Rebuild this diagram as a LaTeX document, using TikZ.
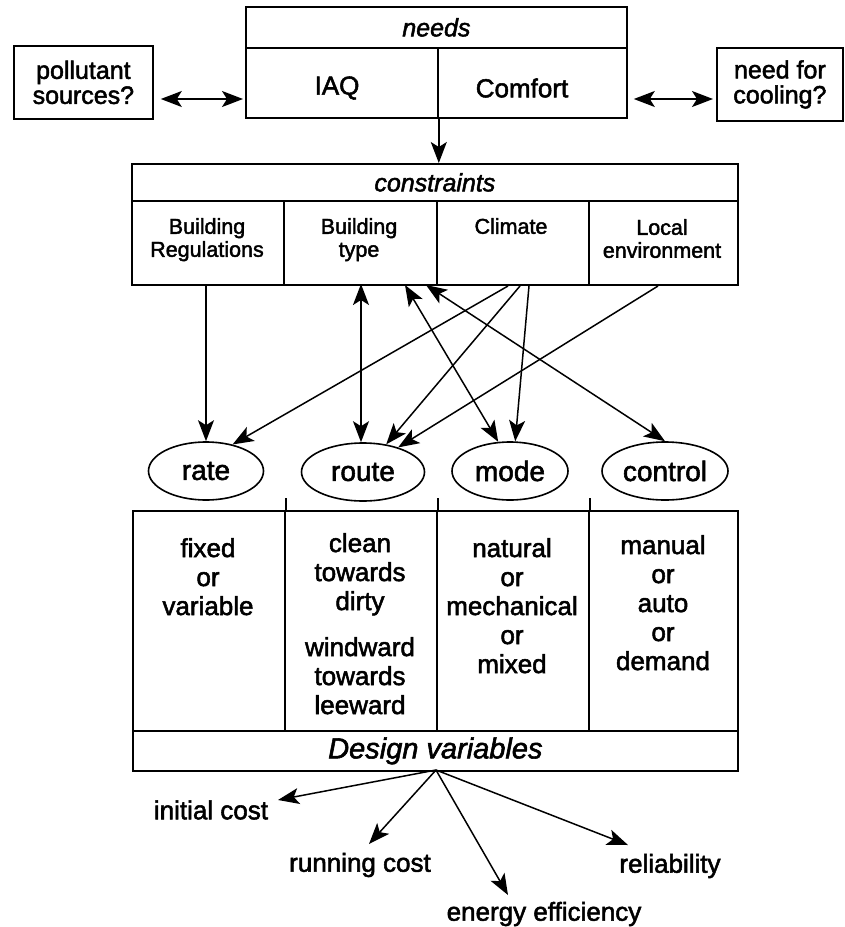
\documentclass[tikz,border=0pt]{standalone}
\usepackage{fontspec}
\setmainfont{Liberation Sans}[FakeBold=2]
\usetikzlibrary{arrows.meta,shapes.geometric,calc}
\begin{document}
\begin{tikzpicture}[x=1pt,y=-1pt,
  >={Stealth[length=21pt,width=16pt,inset=5pt]},
  cellbox/.style={draw, line width=1.8pt, inner sep=0pt, anchor=north west, align=center},
  arr/.style={line width=1.5pt, ->},
  darr/.style={line width=1.5pt, <->},
  bigtxt/.style={font=\fontsize{26}{29}\selectfont, align=center, inner sep=0pt},
  sidetxt/.style={font=\fontsize{25}{25}\selectfont},
  smalltxt/.style={font=\fontsize{21.5}{23}\selectfont, align=center, inner sep=0pt, anchor=north},
  headtxt/.style={font=\fontsize{25}{30}\selectfont\itshape},
  oval/.style={ellipse, draw, line width=1.6pt, minimum height=58pt, inner sep=0pt, font=\fontsize{28}{30}\selectfont}
]
\useasboundingbox (0,0) rectangle (844,927);

% needs
\node[cellbox, minimum width=381pt, minimum height=41pt, headtxt] (needsT) at (245,6) {needs};
\node[cellbox, minimum width=192pt, minimum height=70pt] (iaq) at (245,47) {};
\node[cellbox, minimum width=189pt, minimum height=70pt] (comfort) at (437,47) {};
\node[font=\fontsize{26}{30}\selectfont, inner sep=0pt] (iaqT) at (337,88) {IAQ};
\node[font=\fontsize{26}{30}\selectfont, inner sep=0pt] (comfortT) at (522,88) {Comfort};

% side boxes
\node[cellbox, minimum width=139pt, minimum height=73pt, sidetxt] (poll) at (13,45) {pollutant\\sources?};
\node[cellbox, minimum width=126pt, minimum height=73pt, sidetxt] (cool) at (716,47) {need for\\cooling?};
\coordinate (yarr) at (0,99);
\draw[darr, shorten <=7pt, shorten >=2pt] (poll.east |- yarr) -- (iaq.west |- yarr);
\draw[darr, shorten <=6pt, shorten >=3pt] (comfort.east |- yarr) -- (cool.west |- yarr);

% constraints
\node[cellbox, minimum width=606pt, minimum height=37pt, headtxt] (consT) at (131,163) {constraints};
\node[cellbox, minimum width=152pt, minimum height=84pt] (c1) at (131,200) {};
\node[cellbox, minimum width=153pt, minimum height=84pt] (c2) at (283,200) {};
\node[cellbox, minimum width=152pt, minimum height=84pt] (c3) at (436,200) {};
\node[cellbox, minimum width=149pt, minimum height=84pt] (c4) at (588,200) {};
\node[smalltxt] (t1) at (207,218) {Building\\Regulations};
\node[smalltxt] (t2) at (359,218) {Building\\type};
\node[smalltxt] (t3) at (511,218) {Climate};
\node[smalltxt] (t4) at (662,219) {Local\\environment};

\draw[arr] (iaq.south east) -- (iaq.south east |- consT.north);

% ellipses
\node[oval, minimum width=115pt] (rate) at (206,471) {rate};
\node[oval, minimum width=123pt] (route) at (363,472) {route};
\node[oval, minimum width=116pt] (mode) at (510,471) {mode};
\node[oval, minimum width=126pt] (control) at (665,471) {control};

% arrows constraints -> ellipses
\coordinate (bR) at (206,284);
\coordinate (tV) at (361,284);
\coordinate (tA) at (405,285);
\coordinate (tB) at (426,285);
\coordinate (cA) at (508,286);
\coordinate (cB) at (520,286);
\coordinate (cC) at (529,286);
\coordinate (lA) at (658,286);
\draw[arr] (bR) -- (rate.north);
\draw[darr] (tV) -- (route.north -| tV);
\draw[darr] (tA) -- (mode.112);
\draw[darr] (tB) -- (control.north);
\draw[arr] (cA) -- (rate.45);
\draw[arr] (cB) -- (route.50);
\draw[arr] (cC) -- (mode.80);
\draw[arr] (lA) -- (route.35);

% lower box
\node[cellbox, minimum width=152pt, minimum height=220pt] (d1) at (132,510) {};
\node[cellbox, minimum width=152pt, minimum height=220pt] (d2) at (284,510) {};
\node[cellbox, minimum width=152pt, minimum height=220pt] (d3) at (436,510) {};
\node[cellbox, minimum width=149pt, minimum height=220pt] (d4) at (588,510) {};
\draw[line width=1.8pt] (d1.north east) -- ++(0,-12);
\draw[line width=1.8pt] (d2.north east) -- ++(0,-12);
\draw[line width=1.8pt] (d3.north east) -- ++(0,-12);
\node[cellbox, minimum width=605pt, minimum height=40pt, font=\fontsize{29}{30}\selectfont\itshape] (dv) at (132,730) {Design variables};

\node[bigtxt, anchor=north] (x1) at (208,538) {fixed\\or\\variable};
\node[bigtxt, anchor=north] (x2a) at (360,533) {clean\\towards\\dirty};
\node[bigtxt, anchor=north] (x2b) at (360,637) {windward\\towards\\leeward};
\node[bigtxt, anchor=north] (x3) at (512,538) {natural\\or\\mechanical\\or\\mixed};
\node[bigtxt, anchor=north] (x4) at (663,535) {manual\\or\\auto\\or\\demand};

% outcomes
\node[bigtxt] (init) at (211,810) {initial cost};
\node[bigtxt] (run) at (360,865) {running cost};
\node[bigtxt] (rel) at (670,866) {reliability};
\node[bigtxt] (en) at (544,914) {energy efficiency};
\coordinate (dvs) at (436,770);
\coordinate (initT) at (278,800);
\coordinate (runT) at (369,844);
\coordinate (enT) at (508,895);
\coordinate (relT) at (628,845);
\draw[arr] (dvs) -- (initT);
\draw[arr] (dvs) -- (runT);
\draw[arr] (dvs) -- (enT);
\draw[arr] (dvs) -- (relT);
\end{tikzpicture}
\end{document}
